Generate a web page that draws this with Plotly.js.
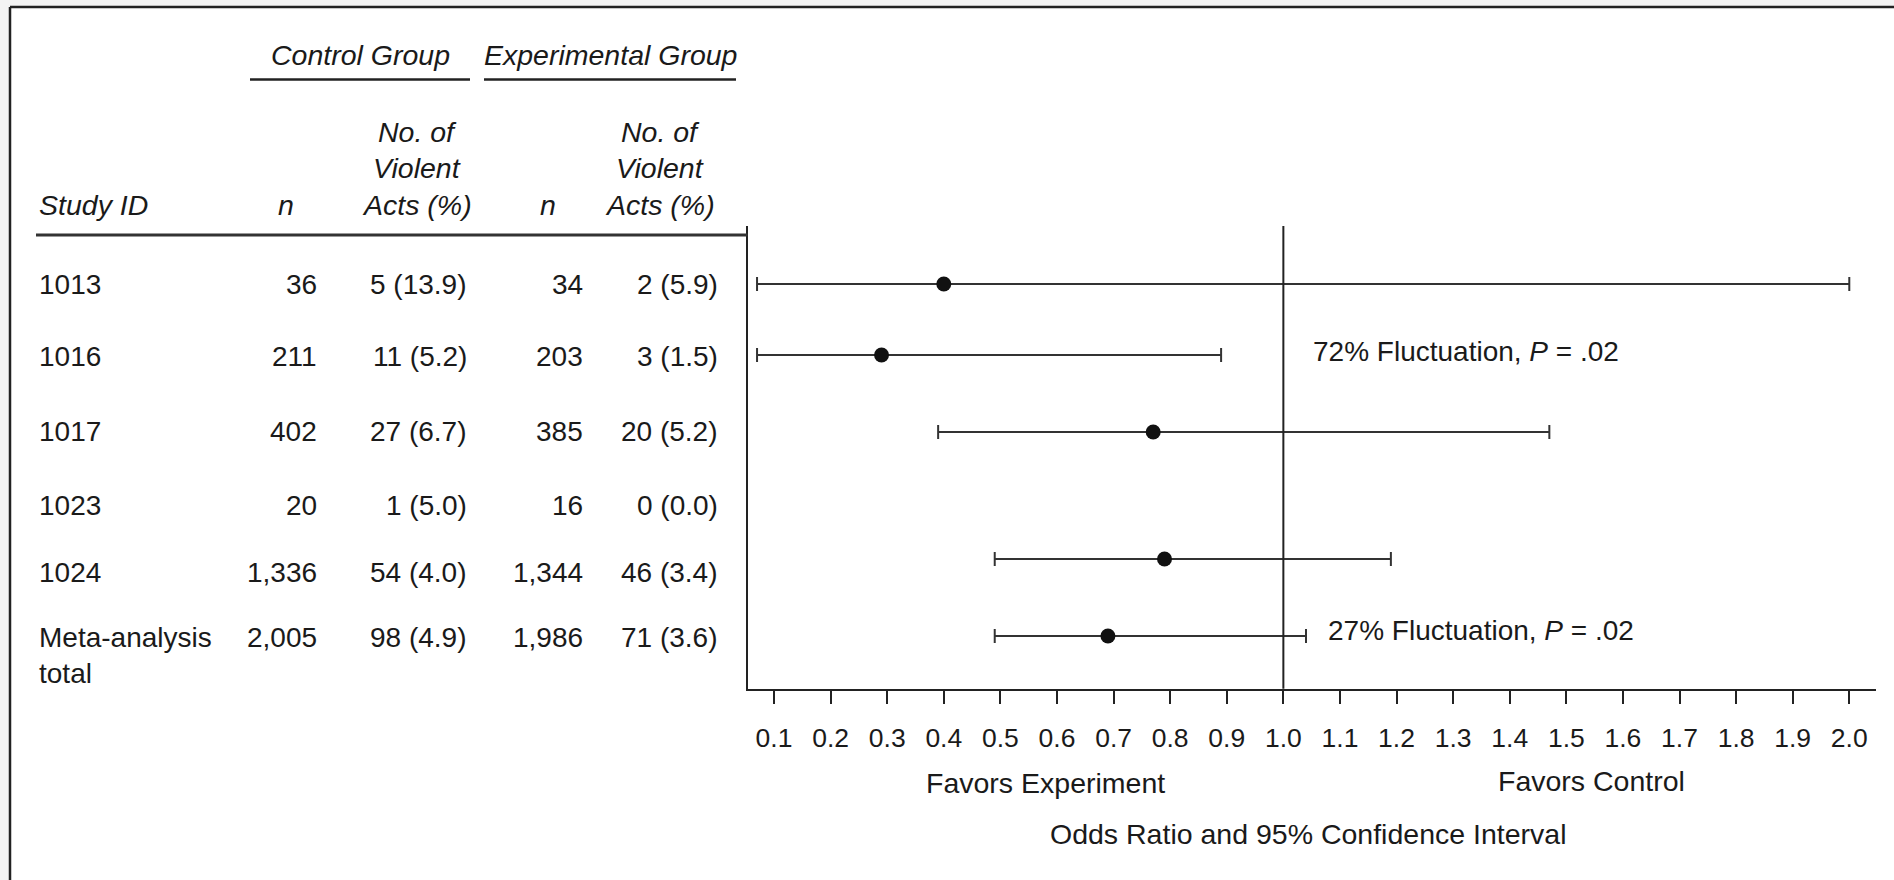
<!DOCTYPE html>
<html>
<head>
<meta charset="utf-8">
<script src="https://cdn.plot.ly/plotly-3.0.1.min.js"></script>
<style>
  html, body { margin: 0; padding: 0; background: #f3f3f3; }
  #chart { width: 1894px; height: 880px; }
</style>
</head>
<body>
<div id="chart"></div>
<script>
// ---------------- DATA ----------------
const studyLabels   = ["1013", "1016", "1017", "1023", "1024", "Meta-analysis\ntotal"];
const controlN      = [36, 211, 402, 20, 1336, 2005];
const controlActs   = [5, 11, 27, 1, 54, 98];
const controlPct    = [13.9, 5.2, 6.7, 5.0, 4.0, 4.9];
const expN          = [34, 203, 385, 16, 1344, 1986];
const expActs       = [2, 3, 20, 0, 46, 71];
const expPct        = [5.9, 1.5, 5.2, 0.0, 3.4, 3.6];
const oddsRatio     = [0.40, 0.29, 0.77, null, 0.79, 0.69];
const ciLower       = [0.07, 0.07, 0.39, null, 0.49, 0.49];
const ciUpper       = [2.00, 0.89, 1.47, null, 1.19, 1.04];
const tickValues    = [0.1, 0.2, 0.3, 0.4, 0.5, 0.6, 0.7, 0.8, 0.9, 1.0, 1.1, 1.2, 1.3, 1.4, 1.5, 1.6, 1.7, 1.8, 1.9, 2.0];
const tickLabels    = ["0.1","0.2","0.3","0.4","0.5","0.6","0.7","0.8","0.9","1.0","1.1","1.2","1.3","1.4","1.5","1.6","1.7","1.8","1.9","2.0"];
const noteTexts     = ["72% Fluctuation, <i>P</i> = .02", "27% Fluctuation, <i>P</i> = .02"];
const noteAt        = [1.049, 1.076];

// ---------------- LAYOUT (pixel geometry) ----------------
const W = 1894, H = 880;
const px = v => v / W;
const py = v => 1 - v / H;
const FONT = "Liberation Sans, Arial, Helvetica, sans-serif";
const INK = "#1a1a1a";
const TXT = 28;
const HEAD = 28.5;

const plotLeft = 747.7, plotRight = 1876, plotTop = 226, plotBottom = 688.7;
const pointRowY = [284, 355, 432, null, 559, 636];   // vertical placement of CI rows
const textRowY  = [284, 356, 431, 505, 572, 637];    // vertical placement of table rows
const secondLineGap = 36;
const colLeftStudy = 37;
const colRight = [319, 469, 585, 720];
const noteRowY = [351, 630];

const fmtN = v => v.toLocaleString("en-US");
const fmtActs = (a, p) => a + " (" + p.toFixed(1) + ")";

const annotations = [];
function txt(text, x, y, anchor, opts) {
  opts = opts || {};
  annotations.push({
    text: text, xref: "paper", yref: "paper", x: px(x), y: py(y),
    xanchor: anchor, yanchor: "middle", showarrow: false,
    font: { family: FONT, size: opts.size || TXT, color: INK, style: opts.italic ? "italic" : "normal" }
  });
}

// header
txt("Control Group", 360, 55, "center", { italic: true, size: HEAD });
txt("Experimental Group", 610, 55, "center", { italic: true, size: HEAD });
txt("Study ID", colLeftStudy, 205, "left", { italic: true, size: HEAD });
txt("n", 286, 205, "center", { italic: true, size: HEAD });
txt("n", 548, 205, "center", { italic: true, size: HEAD });
[["No. of", 132], ["Violent", 168], ["Acts (%)", 205]].forEach(([t, y]) => {
  txt(t, 417, y, "center", { italic: true, size: HEAD });
  txt(t, 660, y, "center", { italic: true, size: HEAD });
});

// table body
studyLabels.forEach((lab, i) => {
  const lines = lab.split("\n");
  lines.forEach((ln, k) => txt(ln, colLeftStudy, textRowY[i] + k * secondLineGap, "left"));
  txt(fmtN(controlN[i]), colRight[0], textRowY[i], "right");
  txt(fmtActs(controlActs[i], controlPct[i]), colRight[1], textRowY[i], "right");
  txt(fmtN(expN[i]), colRight[2], textRowY[i], "right");
  txt(fmtActs(expActs[i], expPct[i]), colRight[3], textRowY[i], "right");
});

// notes inside plot
noteTexts.forEach((t, i) => {
  annotations.push({
    text: t, xref: "x", yref: "y", x: noteAt[i], y: noteRowY[i],
    xanchor: "left", yanchor: "middle", showarrow: false,
    font: { family: FONT, size: TXT, color: INK }
  });
});

// bottom labels
txt("Favors Experiment", 1045, 783, "center", { size: 28.5 });
txt("Favors Control", 1591, 781, "center", { size: 28.5 });
txt("Odds Ratio and 95% Confidence Interval", 1308, 834, "center", { size: 28.5 });

const shapes = [
  // white sheet with left/top border
  { type: "rect", xref: "paper", yref: "paper", x0: px(10), x1: px(W + 20), y0: py(H + 20), y1: py(7),
    fillcolor: "#ffffff", line: { width: 0 }, layer: "below" },
  { type: "line", xref: "paper", yref: "paper", x0: px(10), x1: px(W + 20), y0: py(7), y1: py(7),
    line: { color: "#222", width: 2.5 } },
  { type: "line", xref: "paper", yref: "paper", x0: px(10), x1: px(10), y0: py(7), y1: py(H + 20),
    line: { color: "#222", width: 2.5 } },
  // group underlines
  { type: "line", xref: "paper", yref: "paper", x0: px(250), x1: px(470), y0: py(79.5), y1: py(79.5),
    line: { color: "#222", width: 2.5 } },
  { type: "line", xref: "paper", yref: "paper", x0: px(484), x1: px(736), y0: py(79.5), y1: py(79.5),
    line: { color: "#222", width: 2.5 } },
  // header rule
  { type: "line", xref: "paper", yref: "paper", x0: px(36), x1: px(plotLeft), y0: py(235), y1: py(235),
    line: { color: "#333", width: 3 } },
  // line of no effect
  { type: "line", xref: "x", yref: "y domain", x0: 1.0, x1: 1.0, y0: 0, y1: 1,
    line: { color: "#222", width: 2 } }
];

const trace = {
  type: "scatter", mode: "markers",
  x: oddsRatio, y: pointRowY,
  marker: { color: "#111", size: 15, symbol: "circle" },
  error_x: {
    type: "data", symmetric: false,
    array: oddsRatio.map((v, i) => v == null ? null : ciUpper[i] - v),
    arrayminus: oddsRatio.map((v, i) => v == null ? null : v - ciLower[i]),
    color: "#333", thickness: 2, width: 7
  },
  hoverinfo: "x", showlegend: false, cliponaxis: false
};

const layout = {
  width: W, height: H,
  margin: { l: 0, r: 0, t: 0, b: 0, pad: 0 },
  paper_bgcolor: "#f3f3f3",
  plot_bgcolor: "rgba(0,0,0,0)",
  showlegend: false,
  font: { family: FONT, color: INK, size: TXT },
  xaxis: {
    domain: [px(plotLeft), px(plotRight)],
    range: [0.0535, 2.0472],
    showline: true, linecolor: "#222", linewidth: 2,
    showgrid: false, zeroline: false,
    ticks: "outside", ticklen: 13, tickwidth: 2, tickcolor: "#222",
    tickmode: "array", tickvals: tickValues, ticktext: tickLabels,
    tickfont: { family: FONT, size: 26.5, color: INK },
    ticklabelstandoff: 11,
    fixedrange: true
  },
  yaxis: {
    domain: [py(plotBottom), py(plotTop)],
    range: [plotBottom, plotTop],
    showline: true, linecolor: "#222", linewidth: 2,
    showgrid: false, zeroline: false,
    showticklabels: false, ticks: "",
    fixedrange: true
  },
  shapes: shapes,
  annotations: annotations
};

Plotly.newPlot("chart", [trace], layout, { displayModeBar: false, staticPlot: true });
</script>
</body>
</html>
